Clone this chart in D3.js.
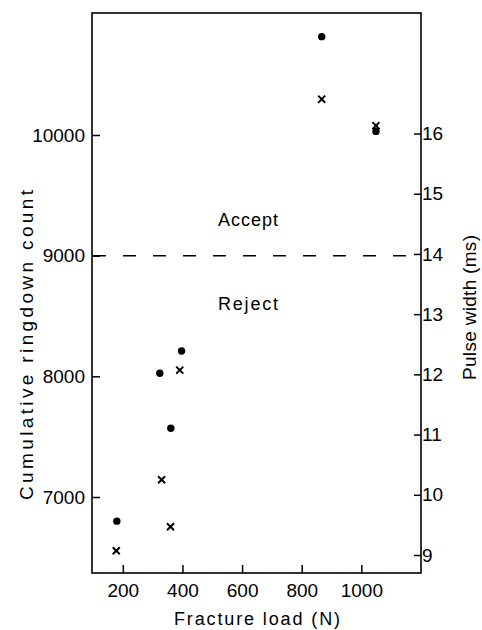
<!DOCTYPE html>
<html>
<head>
<meta charset="utf-8">
<script src="https://cdn.jsdelivr.net/npm/d3@7"></script>
<style>
  html, body { margin: 0; padding: 0; background: #fff; }
  svg { display: block; }
</style>
</head>
<body>
<svg id="chart" width="482" height="630"></svg>
<script>
// ---- data ----
const dotLoads      = [180, 324, 361, 397, 867, 1049];        // Fracture load (N)
const dotRingdown   = [6800, 8025, 7570, 8210, 10815, 10030]; // Cumulative ringdown count
const crossLoads    = [178, 330, 360, 391, 867, 1049];        // Fracture load (N)
const crossPulse    = [9.07, 10.25, 9.47, 12.07, 16.57, 16.13]; // Pulse width (ms)
const xTicks        = [200, 400, 600, 800, 1000];
const leftTicks     = [7000, 8000, 9000, 10000];
const rightTicks    = [9, 10, 11, 12, 13, 14, 15, 16];
const threshold     = [9000];
const regionLabels  = ["Accept", "Reject"];

// ---- layout ----
const frame = { left: 92, right: 421, top: 13, bottom: 573 };
const FONT = "'Liberation Sans', Arial, sans-serif";

const x  = d3.scaleLinear().domain([100, 1200]).range([93, 421]);
const yL = d3.scaleLinear().domain([7000, 10000]).range([497, 135]);
const yR = d3.scaleLinear().domain([9, 16]).range([555, 133.5]);

const svg = d3.select("#chart");

// frame
svg.append("rect")
  .attr("x", frame.left).attr("y", frame.top)
  .attr("width", frame.right - frame.left)
  .attr("height", frame.bottom - frame.top)
  .attr("fill", "none").attr("stroke", "#000").attr("stroke-width", 1.6);

function styleAxis(g, size) {
  g.select(".domain").remove();
  g.selectAll("line").attr("stroke", "#000").attr("stroke-width", 1.5);
  g.selectAll("text").attr("fill", "#000").attr("font-family", FONT).attr("font-size", size);
}

// bottom axis
svg.append("g")
  .attr("transform", `translate(0,${frame.bottom})`)
  .call(d3.axisBottom(x).tickValues(xTicks).tickSizeInner(-8).tickSizeOuter(0).tickPadding(10.5).tickFormat(d3.format("d")))
  .call(g => styleAxis(g, 19));

// left axis
svg.append("g")
  .attr("transform", `translate(${frame.left},0)`)
  .call(d3.axisLeft(yL).tickValues(leftTicks).tickSizeInner(-8).tickSizeOuter(0).tickPadding(7).tickFormat(d3.format("d")))
  .call(g => styleAxis(g, 19));

// right axis
svg.append("g")
  .attr("transform", `translate(${frame.right},0)`)
  .call(d3.axisRight(yR).tickValues(rightTicks).tickSizeInner(-7).tickSizeOuter(0).tickPadding(1).tickFormat(d3.format("d")))
  .call(g => styleAxis(g, 19));

// threshold dashed line
svg.selectAll(".thr").data(threshold).enter().append("line")
  .attr("x1", frame.left + 1).attr("x2", frame.right - 1)
  .attr("y1", d => yL(d)).attr("y2", d => yL(d))
  .attr("stroke", "#000").attr("stroke-width", 1.5)
  .attr("stroke-dasharray", "13,17");

// region labels
const regionY = [226, 310];
svg.selectAll(".region").data(regionLabels).enter().append("text")
  .attr("x", 248).attr("y", (d, i) => regionY[i])
  .attr("text-anchor", "middle")
  .attr("font-family", FONT).attr("font-size", 18)
  .attr("textLength", 60).attr("lengthAdjust", "spacing")
  .text(d => d);

// dots (ringdown count, left axis)
const dots = dotLoads.map((l, i) => ({ load: l, v: dotRingdown[i] }));
svg.selectAll(".dot").data(dots).enter().append("circle")
  .attr("cx", d => x(d.load)).attr("cy", d => yL(d.v))
  .attr("r", 3.7).attr("fill", "#000");

// crosses (pulse width, right axis)
const crosses = crossLoads.map((l, i) => ({ load: l, v: crossPulse[i] }));
svg.selectAll(".cross").data(crosses).enter().append("path")
  .attr("transform", d => `translate(${x(d.load)},${yR(d.v)})`)
  .attr("d", d3.symbol().type(d3.symbolTimes).size(34))
  .attr("fill", "none").attr("stroke", "#000").attr("stroke-width", 2);

// axis titles
svg.append("text")
  .attr("x", 257).attr("y", 625)
  .attr("text-anchor", "middle")
  .attr("font-family", FONT).attr("font-size", 18)
  .attr("textLength", 166).attr("lengthAdjust", "spacing")
  .text("Fracture load (N)");

svg.append("text")
  .attr("transform", "translate(33,345) rotate(-90)")
  .attr("text-anchor", "middle")
  .attr("font-family", FONT).attr("font-size", 19)
  .attr("textLength", 310).attr("lengthAdjust", "spacing")
  .text("Cumulative ringdown count");

svg.append("text")
  .attr("transform", "translate(476,307.5) rotate(-90)")
  .attr("text-anchor", "middle")
  .attr("font-family", FONT).attr("font-size", 19)
  .attr("textLength", 145).attr("lengthAdjust", "spacing")
  .text("Pulse width (ms)");
</script>
</body>
</html>
